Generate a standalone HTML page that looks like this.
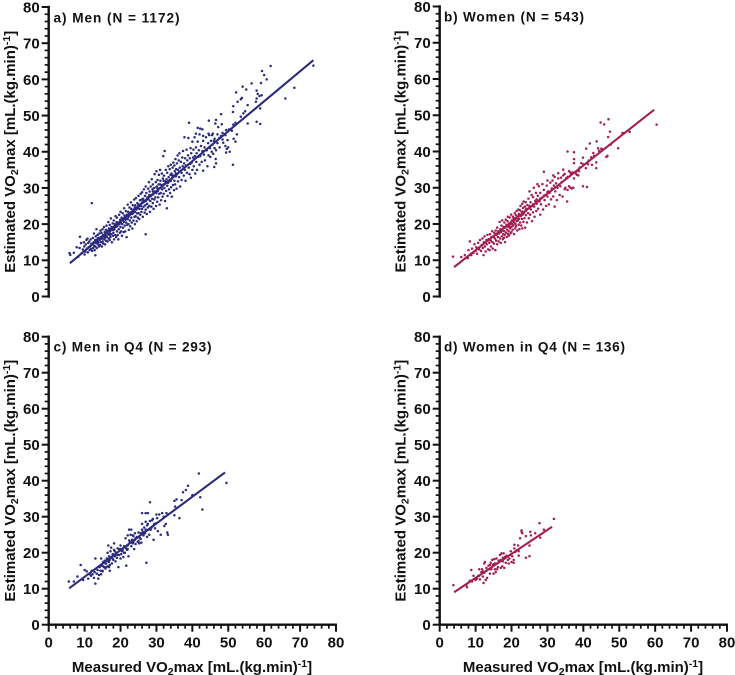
<!DOCTYPE html>
<html><head><meta charset="utf-8"><title>Estimated vs measured VO2max</title>
<style>
html,body{margin:0;padding:0;background:#fff}
svg{display:block}
text{font-family:"Liberation Sans",Arial,sans-serif;font-weight:bold;fill:#111}
</style></head>
<body>
<svg id="chart" width="735" height="675" viewBox="0 0 735 675" xmlns="http://www.w3.org/2000/svg"></svg>
<script>
const yTickLabels = [0,10,20,30,40,50,60,70,80];
const xTickLabels = [0,10,20,30,40,50,60,70,80];
const panelTitles = ["a) Men (N = 1172)","b) Women (N = 543)","c) Men in Q4 (N = 293)","d) Women in Q4 (N = 136)"];
const fitMenAll = [[5.9,9.2],[73.7,65.3]];
const fitWomenAll = [[4,8.1],[59.7,51.5]];
const fitMenQ4 = [[5.7,10.1],[49.1,42.3]];
const fitWomenQ4 = [[4,9],[31.3,27.2]];
const menAll = [
[5.8,12],[6,11.5],[7,12.1],[7.8,13.6],[8.7,16.5],[12,25.8],[13,11.4],[27,17.2],[73.7,63.8],[68.4,57.7],[65.9,54.7],[61.8,63.7],[59.4,62.3],[60,61.2],[60.7,60],[56.5,58.9],[59.1,59],[54,58],[55,57.2],[52.2,56.4],[57.9,56.9],[58.2,56],[58.7,55.4],[59.3,55.6],[57.9,54.7],[57.7,53.8],[53.8,54.9],[52.6,53.8],[53.5,54.5],[51.4,52.6],[51.3,51],[55.4,52.9],[58.9,52],[54.7,51.2],[54.2,50.6],[48,50.4],[53.5,49.7],[57.9,48.3],[58.9,47.7],[55.4,47.8],[51.4,47.5],[52,48],[50.2,46.2],[51,45.8],[49.4,46],[48.2,47.6],[46.4,47.8],[46.6,48.8],[44.6,48.6],[47.2,46.8],[49.2,44.6],[52.4,44.8],[51.5,43.6],[52,42.8],[49.8,43.2],[47.5,43.8],[48.6,42.5],[49.2,41.6],[50,41.2],[49.6,40.8],[49.4,39.8],[50.4,40],[51.3,36.4],[46.5,38],[46.6,36.8],[46.1,35.8],[48,44.4],[47,44.8],[46.2,43.6],[45.5,44.6],[48.4,45.2],[39.1,48],[41.5,46.6],[42.2,46.4],[42.8,46.2],[41,45],[43,44.4],[44.5,45],[45.7,45],
[8.2,11],[8.6,13.4],[9,14.8],[9.2,12],[9.5,13],[9.8,15],[9.9,13.8],[10,11.6],[10.2,12.4],[10.3,14.4],[10.5,15.6],[10.6,13.2],[10.8,16],[10.9,12.2],[11,14.8],[11.1,13.6],[11.3,15.2],[11.4,12.8],[11.6,14],[11.7,15.8],[11.8,13.2],[11.9,14.6],
[12.1,12.6],[12.2,14.4],[12.3,16.2],[12.4,13.4],[12.5,15],[12.6,17.4],[12.7,14],[12.8,12.8],[12.9,15.6],[13,13.8],[13.1,16.6],[13.2,14.8],[13.3,18.6],[13.4,13.4],[13.5,15.8],[13.6,17],[13.7,14.4],[13.8,16.2],[13.9,15],
[14,13.8],[14.1,17.4],[14.2,15.6],[14.3,14.2],[14.4,18.2],[14.5,16.4],[14.6,15],[14.7,17.6],[14.8,13.8],[14.9,16],[15,18.6],[15,15.2],[15.1,17],[15.2,14.6],[15.3,16.6],[15.4,19.2],[15.5,15.8],[15.6,17.8],[15.7,14.4],[15.8,16.8],[15.9,18.4],
[16,15.4],[16,17.6],[16.1,19.6],[16.2,16.4],[16.3,18.2],[16.4,15.2],[16.5,17.2],[16.6,20.6],[16.7,16],[16.8,18.8],[16.9,17.4],[17,15.6],[17,19.8],[17.1,18],[17.2,16.4],[17.3,21.6],[17.4,17.2],[17.5,19.2],[17.6,15],[17.7,18.4],[17.8,20.2],[17.9,16.8],
[18,19],[18,17.6],[18.1,21],[18.2,15.8],[18.3,18.6],[18.4,20],[18.5,17],[18.6,22.2],[18.7,19.2],[18.8,16.4],[18.9,20.6],[19,18],[19,21.8],[19.1,19.4],[19.2,17],[19.3,20.2],[19.4,15.8],[19.5,18.6],[19.6,22.6],[19.7,20],[19.8,17.6],[19.9,21.2],
[20,19.2],[20,23.4],[20.1,20.4],[20.2,18],[20.3,21.8],[20.4,16.8],[20.5,20],[20.6,23],[20.7,19],[20.8,21.4],[20.9,17.8],[21,20.6],[21,24.4],[21.1,22.4],[21.2,19.6],[21.3,18],[21.4,21.2],[21.5,23.6],[21.6,20.4],[21.7,16.4],[21.8,22.6],[21.9,19.8],
[22,21.4],[22,25.4],[22.1,23.4],[22.2,20],[22.3,18.4],[22.4,22.4],[22.5,24.6],[22.6,21],[22.7,19.4],[22.8,23.2],[22.9,26],[23,21.8],[23,24.2],[23.1,20.4],[23.2,22.8],[23.3,18.8],[23.4,25.2],[23.5,23],[23.6,21],[23.7,24],[23.8,26.8],[23.9,22],
[24,23.4],[24,20],[24.1,25.2],[24.2,22.2],[24.3,27.2],[24.4,24],[24.5,20.8],[24.6,23],[24.7,25.8],[24.8,21.8],[24.9,24.4],[25,27.8],[25,23],[25.1,25.4],[25.2,21.4],[25.3,24.2],[25.4,26.6],[25.5,22.6],[25.6,28.4],[25.7,25],[25.8,23.4],[25.9,26.8],
[26,24.2],[26,28.8],[26.1,25.8],[26.2,22],[26.3,27],[26.4,24.8],[26.5,29.6],[26.6,26.2],[26.7,23.2],[26.8,27.8],[26.9,25.2],[27,30.4],[27,24],[27.1,26.6],[27.2,28.6],[27.3,22.8],[27.4,25.6],[27.5,27.4],[27.6,24.6],[27.7,29.8],[27.8,26.8],[27.9,31.6],
[28,27.6],[28,25],[28.1,29],[28.2,23.4],[28.3,26.4],[28.4,30.4],[28.5,28],[28.6,24.8],[28.7,32.4],[28.8,27],[28.9,29.6],[29,25.8],[29,31],[29.1,28.2],[29.2,24.2],[29.3,30],[29.4,26.8],[29.5,33.8],[29.6,29],[29.7,27.4],[29.8,31.6],[29.9,25],
[30,28.6],[30,34.6],[30.1,30.4],[30.2,26.2],[30.3,32.2],[30.4,29.2],[30.5,27.4],[30.6,31],[30.7,33.6],[30.8,28.4],[30.9,25.4],[31,30],[31,35],[31.1,32],[31.2,28.6],[31.3,26.6],[31.4,30.8],[31.5,34],[31.6,29.6],[31.7,27.6],[31.8,32.6],[31.9,38.8],
[32,31],[32,28.4],[32.1,33.4],[32.2,30],[32.3,40.2],[32.4,26.4],[32.5,31.8],[32.6,35],[32.7,29.2],[32.8,32.4],[32.9,24.4],[33,30.6],[33,34.2],[33.1,27.8],[33.2,31.4],[33.3,36],[33.4,33],[33.5,29.6],[33.6,31.8],[33.7,35.2],[33.8,28.6],[33.9,33.6],
[34,32],[34,36.4],[34.1,30.2],[34.2,34],[34.3,27.6],[34.4,32.6],[34.5,35.6],[34.6,30.8],[34.7,37],[34.8,33.4],[34.9,29.4],[35,36.2],[35,32],[35.1,34.6],[35.2,31],[35.3,38],[35.4,33.2],[35.5,35.2],[35.6,29.8],[35.7,36.8],[35.8,33.8],[35.9,39],
[36,31.8],[36,35],[36.2,37.6],[36.3,33],[36.4,39.6],[36.5,35.6],[36.6,30.4],[36.8,37.2],[37,34.2],[37,32.2],[37.2,38.4],[37.3,36],[37.4,40.2],[37.6,33.4],[37.7,36.8],[37.8,44],[37.9,35],[38,38.2],[38.1,32],[38.2,36.2],[38.4,40.6],[38.5,34.2],[38.6,37.6],[38.8,39],[38.9,43.8],[39,35.6],
[39.2,33.8],[39.3,38.2],[39.4,36.6],[39.5,41],[39.6,32.8],[39.7,39.6],[39.8,37],[40,35],[40,42.8],[40.2,38.4],[40.3,40.6],[40.4,36],[40.6,44],[40.7,38.8],[40.8,34],[41,41.2],[41.1,37.2],[41.2,39.6],[41.3,35],[41.5,42.8],[41.6,38.6],[41.8,40.4],[42,36.4],[42,44.8],
[42.2,38.8],[42.4,41.6],[42.6,37.2],[42.8,40.2],[43,43],[43,34.8],[43.2,39.2],[43.4,41.2],[43.5,37.6],[43.8,44],[44,40.4],[44.2,36],[44.4,42.4],[44.5,39],[44.7,44.6],[44.9,41],[45,38.6],[45.2,43],[45.4,40],[45.6,42],[45.8,39.4],[46,43],[46.2,41],[46.6,40.4],[47,42.4],[47.6,41.2],[48.4,43.4],
[18.4,19.2],[19.6,20],[20.6,21],[21.6,21.6],[22.6,22.6],[23.4,23.6],[24.4,24.4],[25.4,25],[26.4,26.4],[27.4,27],[28.4,27.8],[29.4,28.8],[30.4,29.8],[31.4,30.2],[32.4,31.2],[33.4,32],[34.4,33.4],[35.4,34],[15.6,16.2],[16.6,18],[17.6,18.8],[14.6,16],[13.6,15],[22.2,22],[23,23],[24,24.6],[25,25.4],[26,26],[27,26.4],[28,28],[29,29],[30,30.2],[31,31],[32,32],[19.2,19.8],[20,20.8],[21,21.6],[16,16.8],[17,17],[18,18.4]
];
const womenAll = [
[3.7,11],[6,10.9],[60.4,47.4],[52.9,45.4],[50.9,45.1],[49.7,40.9],[47,48.9],[44.8,48],[45.8,47.5],[47.4,45.5],[46.9,44],[47.6,41.9],[46.4,38.5],[46.7,38.8],[43.7,42.8],[41.8,42.2],[44.1,40.9],[40.8,40.8],[39.9,38.3],[42.8,39.6],[45,40.8],[43.6,37],[42.4,36.3],[41.3,36.5],[40.7,35.4],[43.6,35.4],[39.9,30.4],[41,30.2],[35.6,40],[37.4,39.8],[37.4,37.9],[37.4,36.8],[29,34.4],[35.5,26.2],[34.4,35],[34.8,33.8],[36,34.6],[37,34.2],[38,34.4],[39,35.6],[40,36.5],[41.5,37.5],[38.6,33.4],[37.4,32.6],[36.4,30],[37.2,30],[35,30],[36.6,33.8],[37.8,34],[35.6,33],[33.8,32.8],[33,34],[31.6,33.4],
[7,11.4],[7.8,10.6],[8,12.8],[8.4,15.2],[8.8,11.4],[9,13.2],[9.4,12],[9.7,14.4],[10,12.6],[10.2,13.6],[10.4,11.8],[10.7,14.8],[11,13],[11.2,15.6],[11.5,12.6],[11.7,14.2],[11.9,16],[12,13.4],[12.2,11.4],[12.3,15],[12.5,16.6],[12.6,13.8],[12.8,12.4],[13,15.6],[13.1,14.4],[13.3,17],[13.5,13],[13.6,15.8],[13.8,14.8],[13.9,12.8],
[14,17.2],[14.2,15.4],[14.3,13.8],[14.4,16.4],[14.6,18],[14.7,15],[14.8,13.2],[15,16.6],[15.1,14.6],[15.2,17.6],[15.4,16],[15.5,12.8],[15.6,18.2],[15.7,15.4],[15.8,17],[16,14.4],[16,19],[16.2,16.4],[16.3,18],[16.4,15.2],[16.6,17.4],[16.7,20.6],[16.8,16],[16.9,18.6],[17,14.8],[17.1,17.8],[17.2,19.6],[17.3,16.6],[17.4,21],[17.5,18.2],[17.6,15.8],[17.7,17.2],[17.8,19.2],[17.9,16.2],
[18,18],[18,20.4],[18.1,17],[18.2,15],[18.3,19],[18.4,21.2],[18.5,17.6],[18.6,19.8],[18.7,16.4],[18.8,18.4],[18.9,20.8],[19,17.2],[19,22],[19.1,19.2],[19.2,18],[19.3,16.8],[19.4,20.2],[19.5,21.8],[19.6,18.8],[19.7,17.4],[19.8,20],[19.9,22.6],
[20,19.2],[20,17.8],[20.1,21],[20.2,20],[20.3,18.4],[20.4,22],[20.5,19.6],[20.6,21.4],[20.7,17.2],[20.8,20.4],[20.9,23],[21,18.8],[21,21.6],[21.1,20],[21.2,22.4],[21.3,19.4],[21.4,23.6],[21.5,20.8],[21.6,18.2],[21.7,22],[21.8,21],[21.9,24],
[22,19.8],[22,22.8],[22.1,21.4],[22.2,18.6],[22.3,23.8],[22.4,20.4],[22.5,25],[22.6,22.2],[22.7,19.6],[22.8,23.4],[22.9,21.4],[23,25.6],[23,18.8],[23.1,22.6],[23.2,24.4],[23.3,20.6],[23.4,26.2],[23.5,23],[23.6,21.6],[23.7,24.8],[23.8,19],[23.9,23.6],
[24,22.4],[24,26],[24.2,24.2],[24.3,20.4],[24.4,25.2],[24.6,23],[24.7,27],[24.8,21.6],[25,24.6],[25,29],[25.2,22.6],[25.3,26],[25.4,24],[25.6,28],[25.7,20.8],[25.8,25],[26,23.2],[26,27.4],[26.2,30],[26.3,24.8],[26.4,22],[26.6,26.4],[26.8,28.6],[26.9,23.6],
[27,25.6],[27.2,31],[27.3,27.8],[27.4,24.2],[27.6,30.4],[27.8,26.2],[28,22.6],[28,28.6],[28.2,25.4],[28.4,27.2],[28.6,31],[28.8,24],[29,29.4],[29.2,26.6],[29.4,28],[29.6,25],[29.8,30.6],[30,27.6],[30,32],[30.2,29],[30.4,25.4],[30.6,28.6],
[30.8,31.4],[31,26.8],[31.2,29.8],[31.4,32],[31.6,27.6],[31.8,30.6],[32,24.8],[32,33],[32.2,29],[32.4,31.2],[32.6,26.6],[32.8,30],[33,32.6],[33.4,28],[33.6,30.4],[34,31.6],[34.2,27.6],[34.4,33.4],[34.8,29.6],[35.2,32.6],[35.6,29.4],[36,30.4],[36.4,34.2],[36.8,29.8],[38.2,33.6],[38.8,34.6],[39.4,36.8],[42.2,38.4],[43,38.8],[44.4,40.2],[45.2,40.6],
[19,19.8],[20,20.6],[21,21.2],[22,22.2],[23,23.4],[24,24],[25,25],[26,25.4],[27,26.8],[17,18.4],[18,19],[16,17.2],[15,16.4],[14,15.8],[28,27],[29,27.8],[30,28.8],[19.4,19.4],[20.4,20.8],[21.4,21.6]
];
const menQ4 = [
[5.6,12],[8,13.4],[8.9,16.6],[7,12],[9.6,12.4],[10,15.2],[10.6,14.8],[11,12.8],[11.8,13.6],[12,15],[12.2,14],[12.6,13],[13,11.4],[13,18.4],[13.4,14.2],[13.6,15.2],[13.8,12.8],[14,13.8],[14.2,16],[14.4,15],[14.6,14],[14.6,18.4],[14.8,16.6],[15,15],[15.2,17.4],[15.4,16],[15.6,17.8],[15.8,15.6],[16,17],[16.2,18.4],[16.4,16.2],[16.4,20],[16.6,22],[16.8,19],[16.8,17.4],[17,15],[17,18],[17.2,20.4],[17.4,18.6],[17.6,17],[17.8,19.6],[18,18],[18.2,22.6],[18.2,20.8],[18.4,19],[18.6,17.6],[18.8,20],[19,18.6],[19.2,21.2],[19.4,16],[19.6,19.4],[20,21],[20,22],[20.2,19.6],[20.6,20.6],[20.8,18.8],[21,21.8],[21.2,20],[21.4,24],[21.6,16.4],[21.8,20.8],[22,22],[22,24.8],[22.2,19],[22.4,23.4],[22.4,26.4],[22.8,25],[23,21.8],[23,26.4],[23.2,23.6],[23.4,22.6],[23.6,24.6],[23.8,21],[24,23.6],[24,25.4],[24.2,22.4],[24.6,24.4],[24.8,23],[25,25.6],[25.2,22.6],[25.4,24],[25.6,25.4],[25.8,22.8],[26,28],[26,26.4],[26,31],[26.4,24.8],[26.6,27],[26.8,25.4],[27,26.4],[27,31],[27.2,17.2],[27.4,24.4],[27.6,28],[27.6,31],[27.8,26.4],[28,25],[28.2,28.8],[28.2,34],[28.6,27],[29,29.4],[29.2,23.6],[29.4,28],[29.6,26.8],[30,28.2],[30.2,29.6],[30.4,26],[30.8,30.6],[31.2,25],[31.6,31],[32,30],[32.2,27.4],[32.8,31],[33,25.6],[33.2,25],[32.6,28],[35,30.4],[35.2,32.8],[35,34.4],[35.6,34.8],[36.4,29.6],[37,34.6],[37.4,36.8],[38.2,37.4],[38.8,38.6],[40,36],[41.8,42],[42.2,35.4],[42.8,32],[49.5,39.4],
[14.6,16.4],[15.2,16.2],[15.8,17],[16.6,17.6],[17,16.6],[17.8,18.4],[18.4,20.4],[19,19.4],[19.6,21],[20.4,20.4],[21,20],[21.6,21.2],[22.6,22.8],[23,23],[23.6,23],[24.2,24],[25,23.2],[25.6,23.8],[26.2,25.8],[26.6,25.6],[27.4,27.6],[28.4,26.4],[29,27.4],[16,16],[16.8,16],[18,19.4],[20,18.4],[12.8,14.6],[11.4,14],[15,14.8],[17.4,21.4],[22,21],[23.4,24.8],[27,28.6],[28.8,29],[30,30.6]
];
const womenQ4 = [
[3.8,11],[7.4,11],[7.6,10.4],[8.4,12.2],[8.8,15.2],[9,12],[9.4,13.6],[10,12.4],[10.2,13],[10.4,12.8],[10.8,13.6],[11,15.4],[11.2,12.6],[11.6,14.6],[11.8,15.4],[12,13.4],[12.2,11.6],[12.4,17],[12.4,14.4],[12.6,17.4],[12.8,12.4],[13,15],[13.2,13],[13.6,16.4],[13.8,15.4],[14,14.2],[14.2,17.2],[14.4,15.4],[14.6,18],[14.8,16.6],[15,14.2],[15,16.8],[15.2,18.2],[15.4,15.4],[15.6,14.6],[15.8,18.4],[16,17],[16.2,16],[16.4,17.8],[16.8,19.4],[17,15.8],[17,18],[17.2,19.8],[17.4,16.2],[17.6,17.6],[17.8,19.8],[18,18.4],[18,15.8],[18.4,17.2],[18.6,19.2],[19,18],[19.2,17],[19.6,19.4],[19.8,20.4],[20,17.4],[20.2,19],[20.6,18],[20.6,17.2],[20.8,21.2],[20.8,22.2],[21,20.2],[21.4,20.6],[21.8,22],[22,19.2],[22.4,24],[22.8,25.8],[22.8,26.2],[23,25.4],[24,24.6],[24,18.6],[25,19],[25,22],[25.2,25.8],[25.4,24.8],[26.6,25.4],[27.8,28.2],[28,24.2],[29,26.4],[31.8,29.4],[13,15.8],[14,16.6],[15.4,17],[16.6,17.4],[18.2,18.8],[19.4,18.4],[12,14.8],[11,13.6],[17.6,18.6],[16,15.4],[22,20.4]
];

const NS = "http://www.w3.org/2000/svg";
const svg = document.getElementById("chart");
const navy = "#2c2a7d";
const crimson = "#a21f52";
function mk(tag, attrs, parent){
  const e = document.createElementNS(NS, tag);
  for (const k in attrs) e.setAttribute(k, attrs[k]);
  parent.appendChild(e);
  return e;
}
function axisTitle(g, x, y, rotate, txt1, name){
  const t = mk("text", {x:x, y:y, "font-size":15, "text-anchor":"middle"}, g);
  
  
  if (rotate) t.setAttribute("transform", "rotate(-90 "+x+" "+y+")");
  t.appendChild(document.createTextNode(txt1));
  const sub = mk("tspan", {"font-size":10.5, dy:3}, t); sub.textContent = "2";
  const mid = mk("tspan", {dy:-3}, t); mid.textContent = "max [mL.(kg.min)";
  const sup = mk("tspan", {"font-size":10.5, dy:-5}, t); sup.textContent = "-1";
  const end = mk("tspan", {dy:5}, t); end.textContent = "]";
}
function drawPanel(cfg){
  const g = mk("g", {}, svg);
  
  
  const sx = v => cfg.x0 + v * (cfg.x80 - cfg.x0) / 80;
  const sy = v => cfg.y0 + v * (cfg.y80 - cfg.y0) / 80;
  const yAxis = mk("line", {x1:cfg.x0, x2:cfg.x0, y1:cfg.y0+1.2, y2:cfg.y80-1.2, stroke:"#111", "stroke-width":2.4}, g);
  
  
  for (let v = 0; v <= 80; v += 2){
    const major = v % 10 === 0;
    const tick = mk("line", {x1:cfg.x0 - (major ? 7 : 4), x2:cfg.x0, y1:sy(v), y2:sy(v), stroke:"#111", "stroke-width":major ? 2 : 1.7}, g);
    
    
  }
  yTickLabels.forEach(v => {
    const t = mk("text", {x:cfg.x0 - 9, y:sy(v) + 5.4, "font-size":15, "text-anchor":"end"}, g);
    
    
    t.textContent = v;
  });
  axisTitle(g, cfg.yTitleX, (cfg.y0 + cfg.y80)/2, true, "Estimated VO", "y-axis-title");
  if (cfg.xAxis){
    const xAxis = mk("line", {x1:cfg.x0, x2:cfg.x80 + 1, y1:cfg.y0, y2:cfg.y0, stroke:"#111", "stroke-width":2.4}, g);
    
    
    for (let v = 0; v <= 80; v += 2){
      const major = v % 10 === 0;
      const tick = mk("line", {x1:sx(v), x2:sx(v), y1:cfg.y0, y2:cfg.y0 + (major ? 7 : 4), stroke:"#111", "stroke-width":major ? 2 : 1.7}, g);
      
      
    }
    xTickLabels.forEach(v => {
      const t = mk("text", {x:sx(v), y:cfg.y0 + 23, "font-size":15, "text-anchor":"middle"}, g);
      
      
      t.textContent = v;
    });
    axisTitle(g, cfg.xTitleX, 672, false, "Measured VO", "x-axis-title");
  }
  const title = mk("text", {x:cfg.titleX, y:cfg.titleY, "font-size":13.6, textLength:cfg.titleLen, lengthAdjust:"spacing"}, g);
  
  
  title.textContent = cfg.title;
  cfg.points.forEach(p => {
    const c = mk("circle", {cx:sx(p[0]), cy:sy(p[1]), r:1.25, fill:cfg.color}, g);
    
    
  });
  const fit = mk("line", {x1:sx(cfg.fit[0][0]), y1:sy(cfg.fit[0][1]), x2:sx(cfg.fit[1][0]), y2:sy(cfg.fit[1][1]), stroke:cfg.color, "stroke-width":2.1}, g);
  
  
}
drawPanel({name:"panel-men", x0:48.7, x80:336, y0:296.5, y80:7, color:navy, points:menAll, fit:fitMenAll, title:panelTitles[0], titleX:53.5, titleY:22.5, titleLen:126, yTitleX:15, xAxis:false});
drawPanel({name:"panel-women", x0:439.7, x80:727, y0:296.5, y80:6.5, color:crimson, points:womenAll, fit:fitWomenAll, title:panelTitles[1], titleX:444, titleY:21.5, titleLen:140, yTitleX:405.5, xAxis:false});
drawPanel({name:"panel-men-q4", x0:48.7, x80:336, y0:624.7, y80:336.7, color:navy, points:menQ4, fit:fitMenQ4, title:panelTitles[2], titleX:53.5, titleY:351.5, titleLen:158, yTitleX:15, xAxis:true, xTitleX:192});
drawPanel({name:"panel-women-q4", x0:439.7, x80:727, y0:624.7, y80:336.7, color:crimson, points:womenQ4, fit:fitWomenQ4, title:panelTitles[3], titleX:444, titleY:351.5, titleLen:181, yTitleX:405.5, xAxis:true, xTitleX:583});
</script>
</body></html>
